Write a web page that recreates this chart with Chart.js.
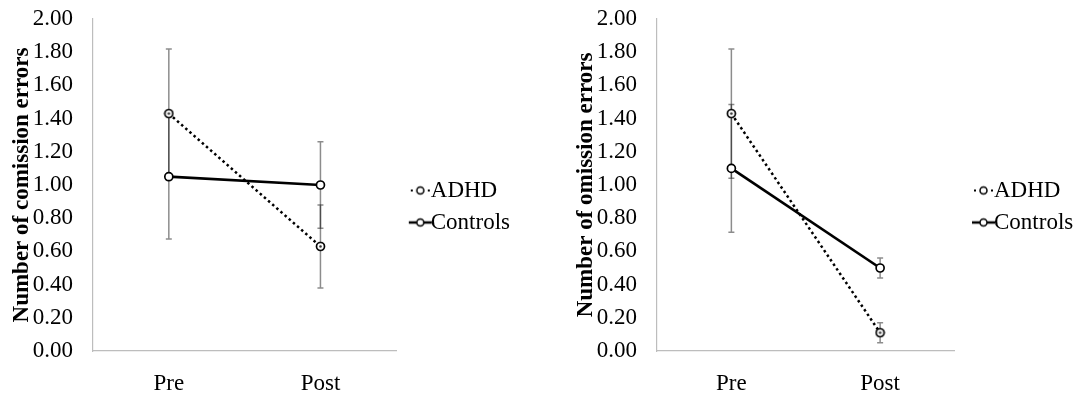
<!DOCTYPE html>
<html>
<head>
<meta charset="utf-8">
<script src="https://cdn.jsdelivr.net/npm/chart.js@4"></script>
<style>
  body { margin: 0; background: #fff; }
  .box { position: absolute; top: 0; height: 394px; }
  #left { left: 0; width: 545px; }
  #right { left: 564px; width: 521px; }
</style>
</head>
<body>
<div class="box" id="left"><canvas id="chart1"></canvas></div>
<div class="box" id="right"><canvas id="chart2"></canvas></div>
<script>
const categories = ['Pre', 'Post'];
const seriesNames = ['ADHD', 'Controls'];

// commission errors
const comAdhd = [1.43, 0.63];
const comAdhdErr = [0.39, 0.25];
const comControls = [1.05, 1.00];
const comControlsErr = [0.375, 0.26];

// omission errors
const omAdhd = [1.43, 0.11];
const omAdhdErr = [0.39, 0.06];
const omControls = [1.10, 0.50];
const omControlsErr = [0.385, 0.06];

const yTicks = [0, 0.2, 0.4, 0.6, 0.8, 1.0, 1.2, 1.4, 1.6, 1.8, 2.0];

const FONT = 'Liberation Serif, Times New Roman, serif';
const FS = 23;

// point image for ADHD (circle with dot inside)
function adhdPoint() {
  const c = document.createElement('canvas');
  c.width = 11; c.height = 11;
  const g = c.getContext('2d');
  g.beginPath(); g.arc(5.5, 5.5, 4, 0, Math.PI * 2);
  g.fillStyle = '#fff'; g.fill();
  g.lineWidth = 1.7; g.strokeStyle = '#000'; g.stroke();
  g.beginPath(); g.arc(5.5, 5.5, 1.3, 0, Math.PI * 2);
  g.fillStyle = '#333'; g.fill();
  return c;
}

// legend marker: short line with circle, drawn in right part of the image
// so that it ends where the legend text starts
function legendMarker(dotted, psw) {
  const c = document.createElement('canvas');
  c.width = psw + 27; c.height = 12;
  const g = c.getContext('2d');
  const x0 = c.width - 24;
  g.strokeStyle = '#000';
  if (dotted) {
    g.fillStyle = '#000';
    g.fillRect(x0 + 2, 5, 2, 2);
    g.fillRect(x0 + 19, 5, 2, 2);
  } else {
    g.lineWidth = 2.5;
    g.beginPath(); g.moveTo(x0, 6); g.lineTo(x0 + 23, 6); g.stroke();
  }
  g.beginPath(); g.arc(x0 + 11.5, 6, 3.5, 0, Math.PI * 2);
  g.fillStyle = '#fff'; g.fill();
  g.lineWidth = 1.5; g.stroke();
  return c;
}

const errorBars = {
  id: 'errorBars',
  beforeDatasetsDraw(chart) {
    const ctx = chart.ctx;
    const y = chart.scales.y;
    ctx.save();
    ctx.strokeStyle = 'rgba(0,0,0,0.45)';
    ctx.lineWidth = 1.5;
    chart.data.datasets.forEach((ds, i) => {
      const meta = chart.getDatasetMeta(i);
      meta.data.forEach((pt, j) => {
        const v = ds.data[j], e = ds.errors[j];
        const top = y.getPixelForValue(v + e);
        const bot = y.getPixelForValue(v - e);
        ctx.beginPath();
        ctx.moveTo(pt.x, top); ctx.lineTo(pt.x, bot);
        ctx.moveTo(pt.x - 3, top); ctx.lineTo(pt.x + 3, top);
        ctx.moveTo(pt.x - 3, bot); ctx.lineTo(pt.x + 3, bot);
        ctx.stroke();
      });
    });
    ctx.restore();
  }
};

function makeChart(id, adhd, adhdErr, controls, controlsErr, title, rightPad, psw) {
  const markers = [legendMarker(true, psw), legendMarker(false, psw)];
  return new Chart(document.getElementById(id), {
    type: 'line',
    data: {
      labels: categories,
      datasets: [
        {
          label: seriesNames[0],
          data: adhd,
          errors: adhdErr,
          borderColor: '#000',
          borderWidth: 2.5,
          borderDash: [2.5, 3],
          pointStyle: adhdPoint(),
          pointRadius: 5
        },
        {
          label: seriesNames[1],
          data: controls,
          errors: controlsErr,
          borderColor: '#000',
          borderWidth: 2.7,
          pointStyle: 'circle',
          pointRadius: 4,
          pointBorderWidth: 1.7,
          pointBorderColor: '#000',
          pointBackgroundColor: '#fff'
        }
      ]
    },
    options: {
      responsive: true,
      maintainAspectRatio: false,
      animation: false,
      layout: { padding: { top: 19, right: rightPad, left: 8, bottom: 0 } },
      plugins: {
        tooltip: { enabled: false },
        legend: {
          position: 'right',
          align: 'center',
          labels: {
            usePointStyle: true,
            pointStyleWidth: psw,
            color: '#000',
            padding: 9,
            font: { family: FONT, size: FS },
            generateLabels(chart) {
              return chart.data.datasets.map((ds, i) => ({
                text: ds.label,
                pointStyle: markers[i],
                fontColor: '#000',
                lineWidth: 0,
                datasetIndex: i
              }));
            }
          }
        }
      },
      scales: {
        x: {
          offset: true,
          afterFit: axis => { axis.height = 43; axis.paddingLeft = 0; axis.paddingRight = 0; },
          grid: { display: false, drawTicks: false },
          border: { color: '#bdbdbd', width: 1.2 },
          ticks: { color: '#000', padding: 21, font: { family: FONT, size: FS, lineHeight: 1 } }
        },
        y: {
          min: 0,
          max: 2,
          afterBuildTicks: axis => { axis.ticks = yTicks.map(v => ({ value: v })); },
          afterFit: axis => { axis.width = 85; axis.paddingTop = 0; axis.paddingBottom = 0; },
          grid: { display: false, drawTicks: false },
          border: { color: '#bdbdbd', width: 1.2 },
          ticks: {
            color: '#000',
            autoSkip: false,
            padding: 20,
            font: { family: FONT, size: FS },
            callback: v => v.toFixed(2)
          },
          title: {
            display: true,
            text: title,
            color: '#000',
            padding: 0,
            font: { family: FONT, size: FS, weight: 'bold' }
          }
        }
      }
    },
    plugins: [errorBars]
  });
}

makeChart('chart1', comAdhd, comAdhdErr, comControls, comControlsErr, 'Number of comission errors', 25, 14);
makeChart('chart2', omAdhd, omAdhdErr, omControls, omControlsErr, 'Number of omission errors', 3, 19);
</script>
</body>
</html>
